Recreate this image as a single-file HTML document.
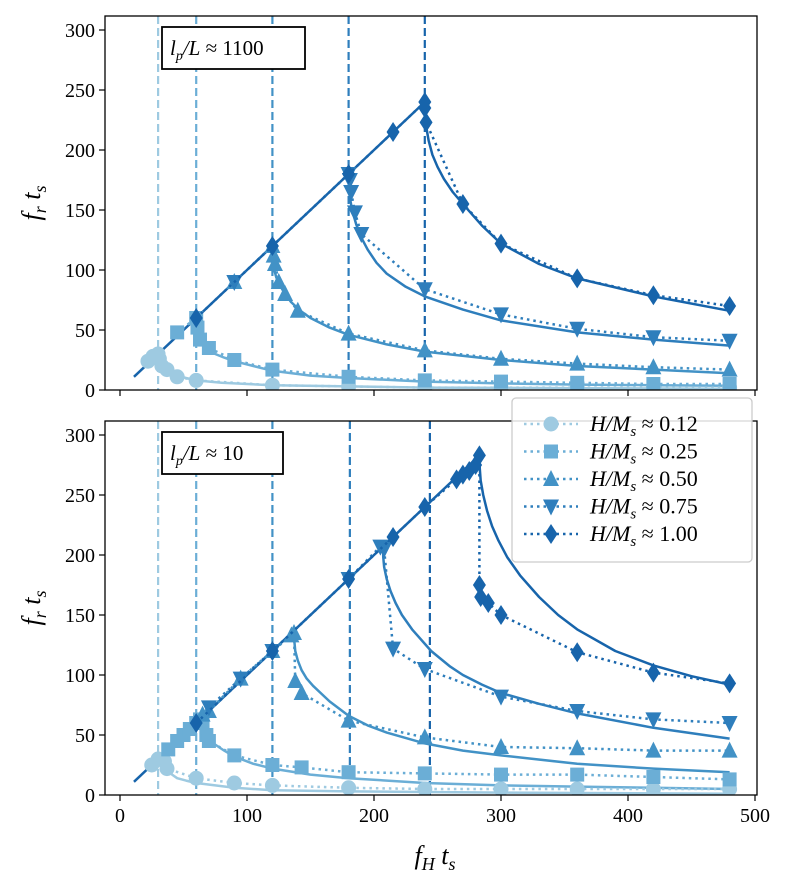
<!DOCTYPE html>
<html><head><meta charset="utf-8"><style>
body{margin:0;background:#fff}
svg text{font-family:"Liberation Serif",serif;fill:#000}
</style></head><body>
<svg id="c" width="789" height="886" xmlns="http://www.w3.org/2000/svg"></svg>
<script>
const seriesLabels=["0.12","0.25","0.50","0.75","1.00"];
const colors=["#9ecae1","#6baed6","#4292c6","#2e7ebc","#1764ab"];
const xTicks=[0,100,200,300,400,500];
const yTicks=[0,50,100,150,200,250,300];
const topCutoffs=[30,60,120,180,240];
const botCutoffs=[30,60,120,181,244];
const topLinear=[[11,11],[240,240]];
const botLinear=[[11,11],[283,283]];
const topData=[
[[22,24],[26,28],[30,30],[31,26],[33,20],[37,17],[45,11],[60,8],[120,4],[180,3],[240,2],[300,2],[360,2],[420,2],[480,2]],
[[45,48],[60,60],[61,52],[63,42],[70,35],[90,25],[120,17],[180,11],[240,8],[300,7],[360,6],[420,5],[480,5]],
[[90,90],[120,120],[121,112],[122,105],[125,90],[130,80],[140,66],[180,47],[240,33],[300,26],[360,22],[420,19],[480,17]],
[[90,90],[180,180],[181,175],[182,165],[185,148],[190,130],[240,84],[300,63],[360,51],[420,44],[480,41]],
[[60,60],[120,120],[180,180],[215,215],[240,240],[240,235],[241,223],[270,155],[300,122],[360,93],[420,79],[480,70]]];
const topFit=[
[[30,30],[30.5,26],[31,23],[33,20],[36,17],[40,14],[45,12],[52,10],[60,8],[80,6],[120,4],[180,3],[240,2],[480,1]],
[[60,60],[60.3,55],[61,49],[62.5,44],[65,39],[69,34],[75,30],[82,27],[90,24],[105,20],[120,16],[150,12],[180,10],[240,7],[300,5.5],[360,4.5],[420,4],[480,3.5]],
[[120,120],[120.3,112],[121,102],[123,94],[126,87],[130,80],[135,73],[142,66],[150,60],[165,52],[180,46],[210,38],[240,32],[300,25],[360,20],[420,17],[480,14]],
[[180,180],[180.3,170],[181,160],[183,149],[186,138],[190,127],[195,117],[202,106],[210,97],[225,86],[240,78],[270,67],[300,58],[360,48],[420,42],[480,37]],
[[240,240],[240.3,230],[241,220],[243,208],[246,196],[250,186],[255,176],[262,165],[270,155],[285,137],[300,122],[330,105],[360,93],[420,78],[480,66]]];
const botData=[
[[25,25],[30,30],[35,28],[37,22],[60,14],[90,10],[120,8],[180,6],[240,5],[300,5],[360,5],[420,5],[480,5]],
[[38,38],[45,45],[50,50],[55,55],[60,60],[63,63],[65,60],[68,50],[70,45],[90,33],[120,25],[143,23],[180,19],[240,18],[300,17],[360,17],[420,15],[480,13]],
[[65,67],[70,70],[95,97],[120,120],[135,133],[137,135],[138,95],[143,85],[180,62],[240,48],[300,40],[360,39],[420,37],[480,37]],
[[70,73],[95,97],[120,120],[180,180],[205,207],[208,205],[215,122],[240,105],[300,82],[360,70],[420,63],[480,60]],
[[60,60],[120,120],[180,180],[215,215],[240,240],[265,263],[270,267],[275,270],[280,275],[283,283],[283,175],[284,165],[290,160],[300,150],[360,119],[420,102],[480,93]]];
const botFit=[
[[35,28],[35.5,25],[36.5,22],[38,20],[41,17],[45,14],[52,12],[60,10],[75,8],[90,6],[120,4],[180,3],[300,2],[480,1]],
[[65,65],[65.3,60],[66,56],[68,51],[71,46],[75,42],[82,37],[90,32],[105,26],[120,22],[150,17],[180,14],[240,10],[300,8],[360,7],[420,6],[480,5]],
[[137,137],[137.3,128],[138,120],[140,112],[143,104],[147,97],[152,91],[158,85],[165,78],[180,66],[195,58],[210,52],[240,43],[270,37],[300,33],[360,26],[420,22],[480,19]],
[[207,207],[207.3,198],[208,190],[210,180],[213,170],[217,160],[222,150],[230,138],[245,120],[260,107],[270,100],[285,92],[300,85],[330,76],[360,68],[420,56],[480,47]],
[[283,283],[283.3,272],[284,262],[286,250],[289,237],[293,224],[298,212],[305,198],[315,183],[330,165],[345,150],[360,138],[390,120],[420,108],[450,99],[480,92]]];

const NS="http://www.w3.org/2000/svg";
const svg=document.getElementById('c');
function mk(tag,attrs,parent){const e=document.createElementNS(NS,tag);for(const k in attrs)e.setAttribute(k,attrs[k]);(parent||svg).appendChild(e);return e;}
const X0=105,X1=757;
const sx=v=>120+v*1.27;

function marker(g,i,x,y,c){
  let e;const s=8;
  if(i===0)e=mk('circle',{cx:x,cy:y,r:7.5,fill:c},g);
  else if(i===1)e=mk('rect',{x:x-7,y:y-7,width:14,height:14,fill:c},g);
  else if(i===2)e=mk('polygon',{points:`${x},${y-s-1} ${x+s},${y+s-1} ${x-s},${y+s-1}`,fill:c},g);
  else if(i===3)e=mk('polygon',{points:`${x},${y+s+1} ${x+s},${y-s+1} ${x-s},${y-s+1}`,fill:c},g);
  else e=mk('polygon',{points:`${x},${y-10} ${x+6.5},${y} ${x},${y+10} ${x-6.5},${y}`,fill:c},g);
  
  
}

function panel(name,top,bottom,y0px,cut,lin,data,fit,labelTxt,labW,showX){
  const sy=v=>y0px-v*1.2;
  const g=mk('g',{});
  
  
  const clipId='clip'+name;
  const cp=mk('clipPath',{id:clipId},g);mk('rect',{x:X0,y:top,width:X1-X0,height:bottom-top},cp);
  const pg=mk('g',{'clip-path':`url(#${clipId})`},g);
  cut.forEach((v,i)=>{const l=mk('line',{x1:sx(v),x2:sx(v),y1:top,y2:bottom,stroke:colors[i],'stroke-width':2.2,'stroke-dasharray':'8,4'},pg);
    
    });
  const ll=mk('polyline',{points:lin.map(p=>sx(p[0])+','+sy(p[1])).join(' '),fill:'none',stroke:colors[4],'stroke-width':2.5},pg);
  
  
  fit.forEach((s,i)=>{const l=mk('polyline',{points:s.map(p=>sx(p[0])+','+sy(p[1])).join(' '),fill:'none',stroke:colors[i],'stroke-width':2.5,'stroke-linejoin':'round'},pg);
    
    });
  data.forEach((s,i)=>{const l=mk('polyline',{points:s.map(p=>sx(p[0])+','+sy(p[1])).join(' '),fill:'none',stroke:colors[i],'stroke-width':2.5,'stroke-dasharray':'2.5,4'},pg);
    
    
    const mg=mk('g',{},pg);
    s.forEach(p=>marker(mg,i,sx(p[0]),sy(p[1]),colors[i]));});
  const fr=mk('rect',{x:X0,y:top,width:X1-X0,height:bottom-top,fill:'none',stroke:'#000','stroke-width':1.3},g);
  
  
  yTicks.forEach(v=>{mk('line',{x1:X0-6,x2:X0,y1:sy(v),y2:sy(v),stroke:'#000','stroke-width':1.2},g);
    const t=mk('text',{x:X0-10,y:sy(v)+7,'text-anchor':'end','font-size':20},g);t.textContent=v;
    
    });
  xTicks.forEach(v=>{mk('line',{x1:sx(v),x2:sx(v),y1:bottom,y2:bottom+6,stroke:'#000','stroke-width':1.2},g);
    if(showX){const t=mk('text',{x:sx(v),y:bottom+27,'text-anchor':'middle','font-size':20},g);t.textContent=v;
      
      }});
  const bx=mk('rect',{x:162,y:top+11,width:labW,height:42,fill:'#fff',stroke:'#000','stroke-width':1.8},g);
  
  
  const at=mk('text',{x:170,y:top+39,'font-size':21},g);
  at.innerHTML=labelTxt;
  
  
  const yl=mk('text',{x:0,y:0,'font-size':26,'font-style':'italic',transform:`translate(40,${(top+bottom)/2}) rotate(-90)`,'text-anchor':'middle'},g);
  yl.innerHTML='f<tspan font-size="18" dy="6">r</tspan><tspan dy="-6"> t</tspan><tspan font-size="18" dy="6">s</tspan>';
  
  
}
panel('top-panel',16,390,390,topCutoffs,topLinear,topData,topFit,'<tspan font-style="italic">l</tspan><tspan font-style="italic" font-size="14" dy="5">p</tspan><tspan dy="-5" font-style="italic">/L</tspan> ≈ 1100',143,false);
panel('bottom-panel',421,795,795,botCutoffs,botLinear,botData,botFit,'<tspan font-style="italic">l</tspan><tspan font-style="italic" font-size="14" dy="5">p</tspan><tspan dy="-5" font-style="italic">/L</tspan> ≈ 10',121,true);

const xl=mk('text',{x:435,y:864,'font-size':26,'font-style':'italic','text-anchor':'middle'});
xl.innerHTML='f<tspan font-size="18" dy="6">H</tspan><tspan dy="-6"> t</tspan><tspan font-size="18" dy="6">s</tspan>';



const lg=mk('g',{});


mk('rect',{x:512,y:398,width:240,height:164,rx:4,fill:'#fff','fill-opacity':0.85,stroke:'#ccc','stroke-width':1.3},lg);
seriesLabels.forEach((s,i)=>{
  const y=424+i*27.5;
  const e=mk('g',{},lg);
  
  
  mk('line',{x1:524,x2:578,y1:y,y2:y,stroke:colors[i],'stroke-width':2.5,'stroke-dasharray':'2.5,4'},e);
  marker(e,i,551,y,colors[i]);
  const t=mk('text',{x:590,y:y+7,'font-size':22},e);
  t.innerHTML='<tspan font-style="italic">H/M</tspan><tspan font-style="italic" font-size="15" dy="5">s</tspan><tspan dy="-5"> ≈ '+s+'</tspan>';
});
</script>
</body></html>
